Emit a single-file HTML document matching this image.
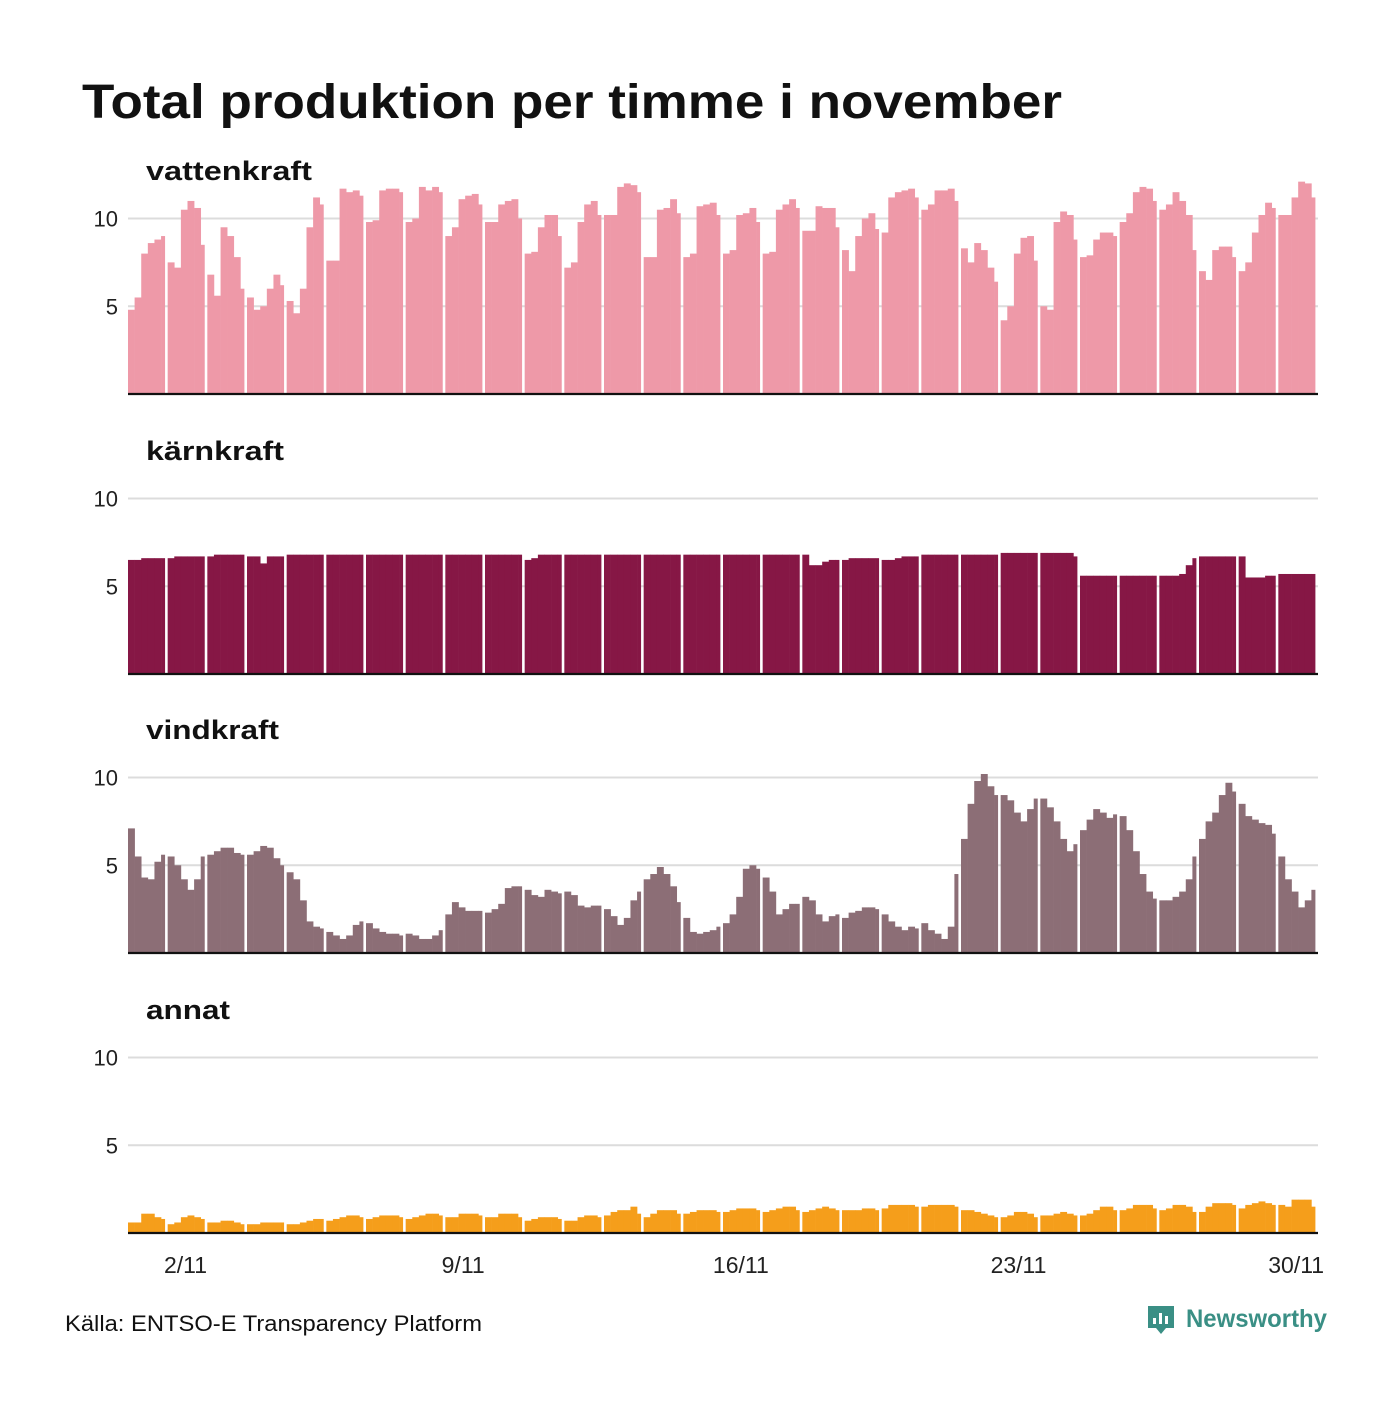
<!DOCTYPE html>
<html><head><meta charset="utf-8"><style>
body{margin:0;background:#fff;font-family:"Liberation Sans","DejaVu Sans",sans-serif}
svg text{font-family:"Liberation Sans","DejaVu Sans",sans-serif}
</style></head><body>
<svg id="chart" width="1400" height="1400" viewBox="0 0 1400 1400" xmlns="http://www.w3.org/2000/svg">
<rect width="1400" height="1400" fill="#fff"/>
<text x="82" y="118" font-size="48" font-weight="bold" fill="#111" textLength="980" lengthAdjust="spacingAndGlyphs">Total produktion per timme i november</text>
<g id="panels"></g>
<g id="xaxis"></g>
<text x="65" y="1331" font-size="22" fill="#111" textLength="417" lengthAdjust="spacingAndGlyphs">Källa: ENTSO-E Transparency Platform</text>
<g>
<path d="M1148 1306 h26 v22 h-8 l-5 6 l-5 -6 h-8 z" fill="#3a8f85"/>
<rect x="1153" y="1318" width="3" height="6" fill="#fff"/><rect x="1159" y="1313" width="3" height="11" fill="#fff"/><rect x="1165" y="1316" width="3" height="8" fill="#fff"/>
<text x="1186" y="1327" font-size="25" font-weight="bold" fill="#3a8f85" textLength="141" lengthAdjust="spacingAndGlyphs">Newsworthy</text>
</g>
</svg>
<script>
const days = 30;
const perDay = 6;
const xTickDays = [2, 9, 16, 23, 30];
const xTickLabels = ["2/11", "9/11", "16/11", "23/11", "30/11"];
const yTicks = [5, 10];
const seriesNames = ["vattenkraft", "kärnkraft", "vindkraft", "annat"];
const vattenkraft = [
4.8,5.5,8,8.6,8.8,9, 7.5,7.2,10.5,11,10.6,8.5, 6.8,5.6,9.5,9,7.8,6, 5.5,4.8,5,6,6.8,6.2, 5.3,4.6,6,9.5,11.2,10.8,
7.6,7.6,11.7,11.5,11.6,11.3, 9.8,9.9,11.6,11.7,11.7,11.5, 9.8,10,11.8,11.6,11.8,11.5, 9,9.5,11.1,11.3,11.4,10.8, 9.8,9.8,10.8,11,11.1,10,
8,8.1,9.5,10.2,10.2,9, 7.2,7.5,9.8,10.8,11,10.2, 10.2,10.2,11.8,12,11.9,11.5, 7.8,7.8,10.5,10.6,11.1,10.3, 7.8,8,10.7,10.8,10.9,10.2,
8,8.2,10.2,10.3,10.6,9.8, 8,8.1,10.5,10.8,11.1,10.6, 9.3,9.3,10.7,10.6,10.6,9.5, 8.2,7,9,10,10.3,9.4, 9.2,11.2,11.5,11.6,11.7,11.2,
10.5,10.8,11.6,11.6,11.7,11, 8.3,7.5,8.6,8.2,7.2,6.4, 4.2,5,8,8.9,9,7.6, 5,4.8,9.8,10.4,10.2,8.8, 7.8,7.9,8.8,9.2,9.2,9,
9.8,10.3,11.5,11.8,11.7,11, 10.5,10.8,11.5,11,10.2,8.2, 7,6.5,8.2,8.4,8.4,7.8, 7,7.5,9.2,10.2,10.9,10.6, 10.2,10.2,11.2,12.1,12,11.2];
const karnkraft = [
6.5,6.5,6.6,6.6,6.6,6.6, 6.6,6.7,6.7,6.7,6.7,6.7, 6.7,6.8,6.8,6.8,6.8,6.8, 6.7,6.7,6.3,6.7,6.7,6.7, 6.8,6.8,6.8,6.8,6.8,6.8,
6.8,6.8,6.8,6.8,6.8,6.8, 6.8,6.8,6.8,6.8,6.8,6.8, 6.8,6.8,6.8,6.8,6.8,6.8, 6.8,6.8,6.8,6.8,6.8,6.8, 6.8,6.8,6.8,6.8,6.8,6.8,
6.5,6.6,6.8,6.8,6.8,6.8, 6.8,6.8,6.8,6.8,6.8,6.8, 6.8,6.8,6.8,6.8,6.8,6.8, 6.8,6.8,6.8,6.8,6.8,6.8, 6.8,6.8,6.8,6.8,6.8,6.8,
6.8,6.8,6.8,6.8,6.8,6.8, 6.8,6.8,6.8,6.8,6.8,6.8, 6.8,6.2,6.2,6.4,6.5,6.5, 6.5,6.6,6.6,6.6,6.6,6.6, 6.5,6.5,6.6,6.7,6.7,6.7,
6.8,6.8,6.8,6.8,6.8,6.8, 6.8,6.8,6.8,6.8,6.8,6.8, 6.9,6.9,6.9,6.9,6.9,6.9, 6.9,6.9,6.9,6.9,6.9,6.7, 5.6,5.6,5.6,5.6,5.6,5.6,
5.6,5.6,5.6,5.6,5.6,5.6, 5.6,5.6,5.6,5.7,6.2,6.6, 6.7,6.7,6.7,6.7,6.7,6.7, 6.7,5.5,5.5,5.5,5.6,5.6, 5.7,5.7,5.7,5.7,5.7,5.7];
const vindkraft = [
7.1,5.5,4.3,4.2,5.2,5.6, 5.5,5,4.2,3.6,4.2,5.5, 5.6,5.8,6,6,5.7,5.6, 5.6,5.8,6.1,6,5.4,5, 4.6,4.2,3,1.8,1.5,1.4,
1.2,1,0.8,1,1.6,1.8, 1.7,1.4,1.2,1.1,1.1,1, 1.1,1,0.8,0.8,1,1.3, 2.2,2.9,2.6,2.4,2.4,2.4, 2.3,2.5,2.8,3.7,3.8,3.8,
3.6,3.3,3.2,3.6,3.5,3.4, 3.5,3.3,2.7,2.6,2.7,2.7, 2.5,2.1,1.6,2,3,3.5, 4.2,4.5,4.9,4.5,3.8,2.9, 2,1.2,1.1,1.2,1.3,1.5,
1.7,2.2,3.2,4.8,5,4.8, 4.3,3.5,2.2,2.5,2.8,2.8, 3.2,3,2.2,1.8,2.1,2.2, 2,2.3,2.4,2.6,2.6,2.5, 2.2,1.8,1.5,1.3,1.5,1.4,
1.7,1.3,1.1,0.8,1.5,4.5, 6.5,8.5,9.8,10.2,9.5,9, 9,8.7,8,7.5,8.2,8.8, 8.8,8.3,7.5,6.5,5.8,6.2, 7,7.6,8.2,8,7.7,7.9,
7.8,7,5.8,4.5,3.5,3.1, 3,3,3.2,3.5,4.2,5.5, 6.5,7.5,8,9,9.7,9.2, 8.5,7.8,7.6,7.4,7.3,6.8, 5.5,4.2,3.5,2.6,3,3.6];
const annat = [
0.6,0.6,1.1,1.1,0.9,0.8, 0.5,0.6,0.9,1,0.9,0.8, 0.6,0.6,0.7,0.7,0.6,0.5, 0.5,0.5,0.6,0.6,0.6,0.6, 0.5,0.5,0.6,0.7,0.8,0.8,
0.7,0.8,0.9,1,1,0.9, 0.8,0.9,1,1,1,0.9, 0.8,0.9,1,1.1,1.1,1, 0.9,0.9,1.1,1.1,1.1,1, 0.9,0.9,1.1,1.1,1.1,0.9,
0.7,0.8,0.9,0.9,0.9,0.8, 0.7,0.7,0.9,1,1,0.9, 1,1.2,1.3,1.3,1.5,1.1, 0.9,1.1,1.3,1.3,1.3,1.1, 1.1,1.2,1.3,1.3,1.3,1.2,
1.2,1.3,1.4,1.4,1.4,1.3, 1.2,1.3,1.4,1.5,1.5,1.3, 1.2,1.3,1.4,1.5,1.4,1.3, 1.3,1.3,1.3,1.4,1.4,1.3, 1.4,1.6,1.6,1.6,1.6,1.5,
1.5,1.6,1.6,1.6,1.6,1.5, 1.3,1.3,1.2,1.1,1,0.9, 0.9,1,1.2,1.2,1.1,0.9, 1,1,1.1,1.2,1.1,1, 1,1.1,1.3,1.5,1.5,1.3,
1.3,1.4,1.6,1.6,1.6,1.4, 1.3,1.4,1.6,1.6,1.5,1.2, 1.2,1.5,1.7,1.7,1.7,1.6, 1.4,1.6,1.7,1.8,1.7,1.6, 1.6,1.5,1.9,1.9,1.9,1.5];

const seriesData = [vattenkraft, karnkraft, vindkraft, annat];
const colors = ["#ee99a8", "#861745", "#8c6e76", "#f59e1b"];
const baselines = [394, 674, 953, 1233];
const labelWidths = [166, 138, 133, 84];
const NS = "http://www.w3.org/2000/svg";
const x0 = 128, x1 = 1318, unit = 17.55, gap = 2.6;
const dayW = (x1 - x0) / days;
function xScale(d) { return x0 + d * dayW; }
function yScale(v, p) { return baselines[p] - v * unit; }
function mk(tag, attrs) { const e = document.createElementNS(NS, tag); for (const k in attrs) e.setAttribute(k, attrs[k]); return e; }

const panels = document.getElementById("panels");
seriesNames.forEach((name, p) => {
  const g = mk("g", {});
  
  
  const lab = mk("text", {x: 146, y: baselines[p] - 214, "font-size": 27, "font-weight": "bold", fill: "#111", textLength: labelWidths[p], lengthAdjust: "spacingAndGlyphs"});
  lab.textContent = name;
  
  
  g.appendChild(lab);
  yTicks.forEach(t => {
    const y = yScale(t, p);
    const gl = mk("line", {x1: x0, x2: x1, y1: y, y2: y, stroke: "#dcdcdc", "stroke-width": 2});
    
    
    g.appendChild(gl);
    const tl = mk("text", {x: 118, y: y + 8, "font-size": 22, "text-anchor": "end", fill: "#222"});
    tl.textContent = t;
    
    
    g.appendChild(tl);
  });
  const data = seriesData[p];
  const w = dayW / perDay;
  data.forEach((v, i) => {
    const d = i / perDay;
    const last = (i % perDay) === perDay - 1;
    const x = xScale(d);
    const y = yScale(v, p);
    const r = mk("rect", {x: x.toFixed(2), y: y.toFixed(2), width: (last ? w - gap : w + 0.3).toFixed(2), height: (baselines[p] - y).toFixed(2), fill: colors[p]});
    
    
    g.appendChild(r);
  });
  const base = mk("line", {x1: x0, x2: x1, y1: baselines[p], y2: baselines[p], stroke: "#111", "stroke-width": 2.2});
  
  
  g.appendChild(base);
  panels.appendChild(g);
});
const xa = document.getElementById("xaxis");
xTickDays.forEach((d, i) => {
  const t = mk("text", {x: xScale(d - 0.55), y: 1273, "font-size": 23, "text-anchor": "middle", fill: "#222"});
  t.textContent = xTickLabels[i];
  
  
  xa.appendChild(t);
});
</script>
</body></html>
